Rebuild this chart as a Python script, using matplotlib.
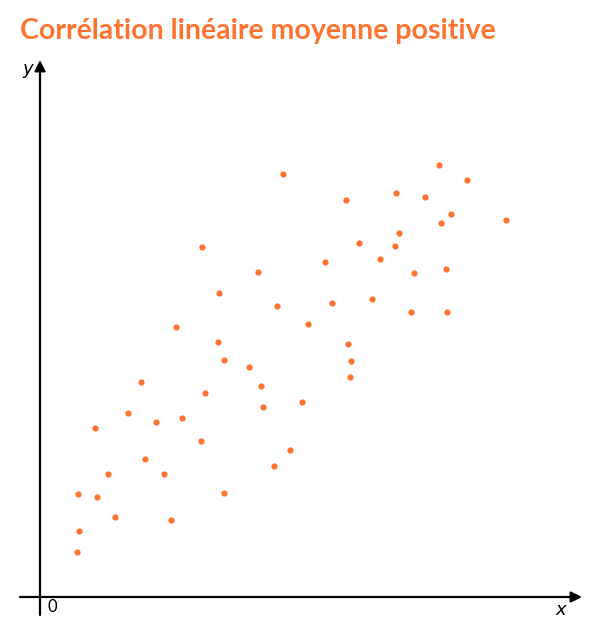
import numpy as np
import matplotlib.pyplot as plt

# nuage de points (unités = pixels depuis l'origine)
x_vals = [243, 399, 427, 356, 385, 306, 411, 401, 466, 359, 319, 355, 162, 340, 285,
          218, 406, 374, 179, 237, 292, 332, 371, 407, 268, 136, 178, 308, 184, 311,
          209, 310, 101, 221, 165, 262, 223, 88, 142, 116, 55, 161, 250, 105, 234,
          124, 68, 184, 38, 57, 75, 131, 39, 37]
y_vals = [423, 432, 417, 404, 400, 397, 383, 374, 377, 364, 354, 351, 350, 338, 335,
          325, 328, 324, 304, 291, 294, 298, 285, 285, 273, 270, 255, 253, 237, 236,
          230, 220, 215, 211, 204, 195, 190, 184, 179, 175, 169, 156, 147, 138, 131,
          123, 123, 104, 103, 100, 80, 77, 66, 45]

title = "Corrélation linéaire moyenne positive"
orange = "#FF7331"

fig = plt.figure(figsize=(6.0, 6.37), dpi=100)
ax = fig.add_axes([0, 0, 1, 1])
ax.set_xlim(-40, 560)
ax.set_ylim(-40, 597)
ax.axis("off")

# axes avec flèches
ax.annotate("", xy=(542, 0), xytext=(-20, 0),
            arrowprops=dict(arrowstyle="-|>", color="black", lw=1.6,
                            mutation_scale=16, shrinkA=0, shrinkB=0))
ax.annotate("", xy=(0, 537), xytext=(0, -18),
            arrowprops=dict(arrowstyle="-|>", color="black", lw=1.6,
                            mutation_scale=16, shrinkA=0, shrinkB=0))

ax.scatter(x_vals, y_vals, s=20, color=orange, zorder=3, linewidths=0)

ax.text(7, -2, "0", fontsize=12, va="top", ha="left", family="Lato")
ax.text(-5, 526, "$y$", fontsize=13, va="center", ha="right")
ax.text(522, -4, "$x$", fontsize=13, va="top", ha="center")

fig.text(20 / 600, 1 - 31 / 637, title, fontsize=20.5, fontweight="bold",
         color=orange, family="Lato", va="center", ha="left")

fig.savefig("out.png", dpi=100)
